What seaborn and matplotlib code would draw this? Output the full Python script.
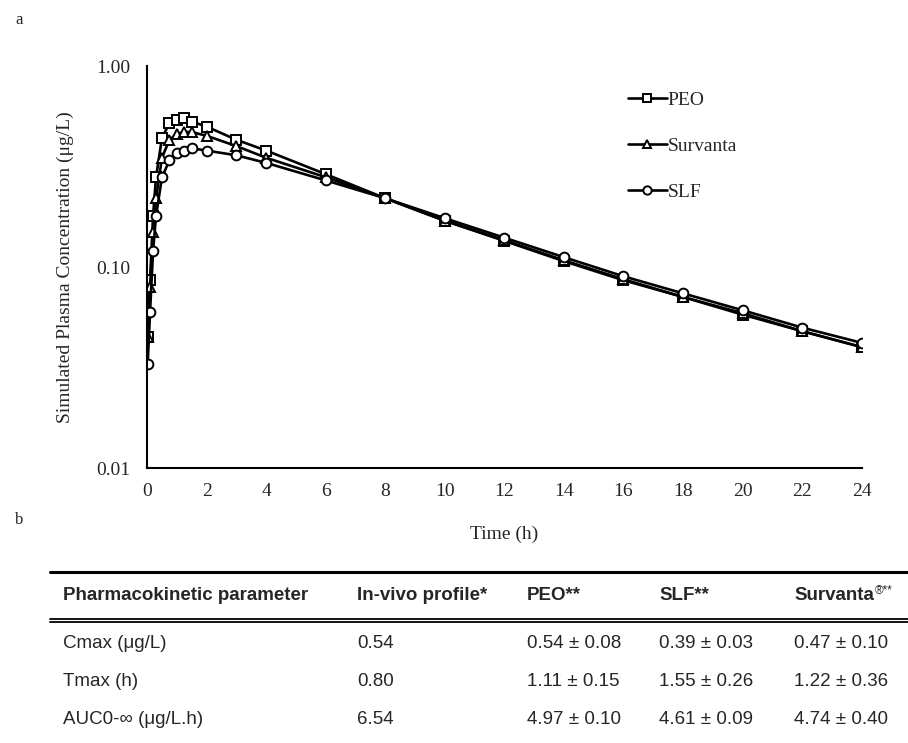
import numpy as np
import pandas as pd
import matplotlib
matplotlib.use("Agg")
import matplotlib.pyplot as plt
import seaborn as sns

# ---- data ----
time_h = [0.02, 0.1, 0.2, 0.3, 0.5, 0.75, 1.0, 1.25, 1.5, 2, 3, 4, 6, 8, 10, 12, 14, 16, 18, 20, 22, 24]
peo = [0.045, 0.086, 0.18, 0.28, 0.44, 0.52, 0.54, 0.55, 0.53, 0.50, 0.43, 0.38, 0.29, 0.22, 0.17, 0.135, 0.107, 0.086, 0.071, 0.058, 0.048, 0.040]
survanta = [0.045, 0.080, 0.15, 0.22, 0.35, 0.43, 0.46, 0.47, 0.47, 0.45, 0.40, 0.35, 0.28, 0.22, 0.17, 0.136, 0.108, 0.087, 0.071, 0.059, 0.048, 0.040]
slf = [0.033, 0.060, 0.12, 0.18, 0.28, 0.34, 0.37, 0.38, 0.39, 0.38, 0.36, 0.33, 0.27, 0.22, 0.175, 0.14, 0.112, 0.090, 0.074, 0.061, 0.050, 0.042]
series_names = ["PEO", "Survanta", "SLF"]
x_ticks = list(range(0, 25, 2))
y_ticks = [0.01, 0.10, 1.00]

table_header = ["Pharmacokinetic parameter", "In-vivo profile*", "PEO**", "SLF**", "Survanta"]
table_params = ["Cmax (μg/L)", "Tmax (h)", "AUC0-∞ (μg/L.h)"]
table_invivo = ["0.54", "0.80", "6.54"]
table_peo = ["0.54 ± 0.08", "1.11 ± 0.15", "4.97 ± 0.10"]
table_slf = ["0.39 ± 0.03", "1.55 ± 0.26", "4.61 ± 0.09"]
table_surv = ["0.47 ± 0.10", "1.22 ± 0.36", "4.74 ± 0.40"]

df = pd.DataFrame({
    "Time": time_h * 3,
    "Conc": peo + survanta + slf,
    "Series": ["PEO"] * len(time_h) + ["Survanta"] * len(time_h) + ["SLF"] * len(time_h),
})

sns.set_theme(style="white")
plt.rcParams["font.family"] = ["Liberation Serif", "DejaVu Serif"]

fig = plt.figure(figsize=(9.08, 7.43), dpi=100)
ax = fig.add_axes([0.162, 0.370, 0.787, 0.541])

sns.lineplot(data=df, x="Time", y="Conc", style="Series", hue="Series",
             palette={n: "black" for n in series_names},
             markers={"PEO": "s", "Survanta": "^", "SLF": "o"},
             dashes=False, ax=ax, linewidth=1.9,
             markerfacecolor="white", markeredgecolor="black",
             markersize=7, markeredgewidth=1.4, sort=False)

FS = 14
ax.set_yscale("log")
ax.set_xlim(0, 24)
ax.set_ylim(0.01, 1.0)
ax.set_xticks(x_ticks)
ax.set_xticklabels([str(t) for t in x_ticks], fontsize=FS)
ax.set_yticks(y_ticks)
ax.set_yticklabels([f"{v:.2f}" for v in y_ticks], fontsize=FS)
ax.yaxis.set_minor_locator(matplotlib.ticker.NullLocator())
ax.tick_params(axis="y", length=0, pad=12)
ax.tick_params(axis="x", length=0, pad=11)
for side in ["top", "right"]:
    ax.spines[side].set_visible(False)
for side in ["left", "bottom"]:
    ax.spines[side].set_color("black")
    ax.spines[side].set_linewidth(1.5)
ax.set_xlabel("Time (h)", fontsize=FS, labelpad=18)
ax.set_ylabel("Simulated Plasma Concentration (μg/L)", fontsize=FS, labelpad=16)

leg = ax.legend(loc="upper left", bbox_to_anchor=(0.648, 0.98), frameon=False,
                fontsize=FS, labelspacing=1.45, handlelength=2.0, handletextpad=0.05)
for h in leg.legend_handles:
    h.set_markersize(6)
    h.set_markerfacecolor("white")
    h.set_markeredgecolor("black")
    h.set_color("black")

fig.text(15 / 908, 1 - 20 / 743, "a", fontsize=12, va="center", ha="left")
fig.text(15 / 908, 1 - 520 / 743, "b", fontsize=12, va="center", ha="left")

# ---- table ----
col_x = [63, 357, 527, 659, 794]
def fy(py):
    return 1 - py / 743
fig.add_artist(plt.Line2D([50 / 908, 1.0], [fy(572), fy(572)], color="black", lw=2.2))
fig.add_artist(plt.Line2D([50 / 908, 1.0], [fy(619), fy(619)], color="black", lw=1.3))
fig.add_artist(plt.Line2D([50 / 908, 1.0], [fy(622), fy(622)], color="black", lw=1.3))
sans = ["Liberation Sans", "DejaVu Sans"]
TFS = 13.5
for x, h in zip(col_x, table_header):
    t = fig.text(x / 908, fy(596), h, fontsize=TFS, fontweight="bold", family=sans,
                 va="center", ha="left")
fig.canvas.draw()
bb = t.get_window_extent()
fig.text((bb.x1 + 1) / 908, fy(590), "®**", fontsize=8.5, family=sans,
         va="center", ha="left")
rows_y = [644, 682, 720]
for i, y in enumerate(rows_y):
    vals = [table_params[i], table_invivo[i], table_peo[i], table_slf[i], table_surv[i]]
    for x, v in zip(col_x, vals):
        fig.text(x / 908, fy(y), v, fontsize=TFS, family=sans, va="center", ha="left")

fig.savefig("out.png", dpi=100)
